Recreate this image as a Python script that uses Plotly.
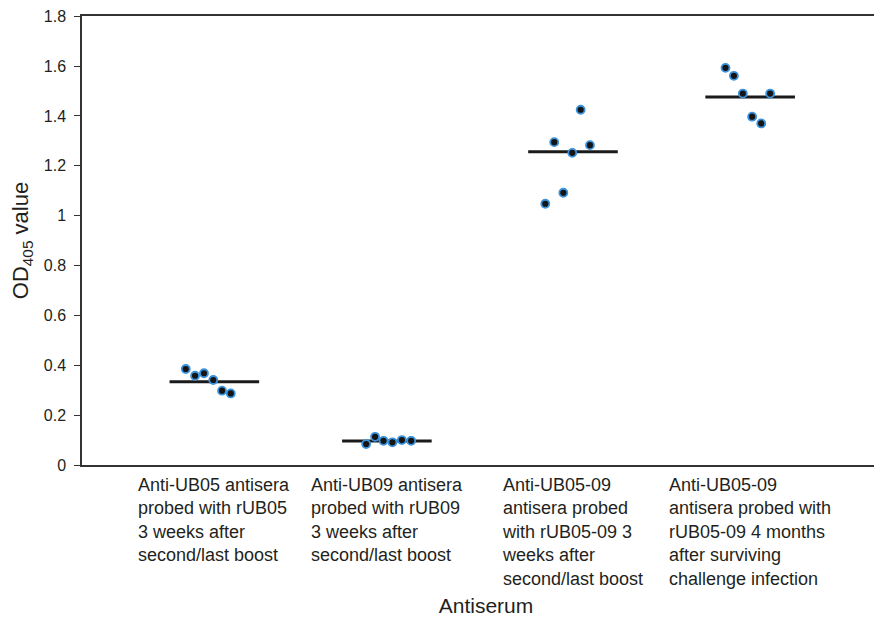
import plotly.graph_objects as go

# groupes (libellés d'axe, retours à la ligne comme dans la figure)
group_labels = [
    "Anti-UB05 antisera<br>probed with rUB05<br>3 weeks after<br>second/last boost",
    "Anti-UB09 antisera<br>probed with rUB09<br>3 weeks after<br>second/last boost",
    "Anti-UB05-09<br>antisera probed<br>with rUB05-09 3<br>weeks after<br>second/last boost",
    "Anti-UB05-09<br>antisera probed with<br>rUB05-09 4 months<br>after surviving<br>challenge infection",
]
group_x = [0.0, 0.966, 2.008, 3.0]

# valeurs OD405 individuelles (6 sérums par groupe) et décalage horizontal (jitter)
od_values = [
    [0.385, 0.358, 0.368, 0.341, 0.298, 0.287],
    [0.084, 0.113, 0.097, 0.091, 0.100, 0.097],
    [1.048, 1.295, 1.092, 1.252, 1.425, 1.283],
    [1.593, 1.561, 1.490, 1.397, 1.370, 1.490],
]
jitter = [
    [-0.160, -0.108, -0.058, -0.006, 0.043, 0.092],
    [-0.116, -0.066, -0.019, 0.031, 0.084, 0.136],
    [-0.155, -0.105, -0.054, -0.004, 0.043, 0.095],
    [-0.138, -0.091, -0.041, 0.011, 0.062, 0.112],
]
group_means = [0.334, 0.096, 1.256, 1.476]

y_ticks = [0, 0.2, 0.4, 0.6, 0.8, 1, 1.2, 1.4, 1.6, 1.8]

TEXT = "#231f20"
FONT = "Liberation Sans, Arial, sans-serif"

fig = go.Figure()

# barres de moyenne (dessinées sous les points) ; line-ew : longueur = 1.4 * size
fig.add_trace(
    go.Scatter(
        x=group_x, y=group_means, mode="markers",
        marker=dict(symbol="line-ew", size=64, line=dict(color="#1a1a1a", width=3)),
        hoverinfo="skip", showlegend=False,
    )
)

xs, ys = [], []
for gx, vals, jit in zip(group_x, od_values, jitter):
    xs += [gx + j for j in jit]
    ys += vals

fig.add_trace(
    go.Scatter(
        x=xs, y=ys, mode="markers",
        marker=dict(size=8, color="#151515", line=dict(color="#3a93dc", width=1.8)),
        showlegend=False,
    )
)

for gx, lab in zip(group_x, group_labels):
    fig.add_annotation(
        x=gx, y=0, xref="x", yref="paper", yanchor="top", xanchor="center",
        yshift=-8, text=lab, align="left", showarrow=False,
        font=dict(family=FONT, size=18, color=TEXT),
    )

# la page ajoute 8 px de marge au body : marges réduites d'autant
fig.update_xaxes(
    range=[-0.741, 3.783], showline=True, linecolor="#333", linewidth=1.5,
    mirror=True, ticks="", showticklabels=False, showgrid=False, zeroline=False,
    title=dict(text="Antiserum", standoff=133, font=dict(family=FONT, size=21, color=TEXT)),
    automargin=False,
)
fig.update_yaxes(
    range=[0, 1.801], tickvals=y_ticks, showline=True, linecolor="#333", linewidth=1.5,
    ticks="outside", ticklen=6, tickcolor="#333", showgrid=False, zeroline=False,
    tickfont=dict(family=FONT, size=16, color=TEXT), ticklabelstandoff=5,
    ticklabeloverflow="allow",
    title=dict(text="OD<sub>405</sub> value", standoff=16, font=dict(family=FONT, size=22, color=TEXT)),
    automargin=False,
)

fig.update_layout(
    width=882, height=618,
    margin=dict(l=74, r=0, t=8, b=161),
    plot_bgcolor="white", paper_bgcolor="white",
    font=dict(family=FONT, color=TEXT),
    showlegend=False,
)

fig.write_html("out.html")
